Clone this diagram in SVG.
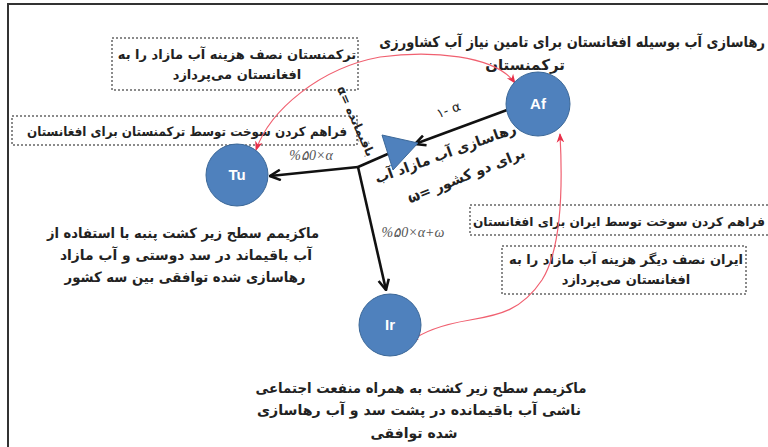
<svg xmlns="http://www.w3.org/2000/svg" width="768" height="447" viewBox="0 0 768 447">
<defs>
<marker id="ab" viewBox="0 0 10 10" refX="9" refY="5" markerWidth="5" markerHeight="5" orient="auto-start-reverse" markerUnits="strokeWidth">
<path d="M1,1 L9,5 L1,9" fill="none" stroke="#111" stroke-width="2"/>
</marker>
<marker id="ar" viewBox="0 0 10 10" refX="9" refY="5" markerWidth="8" markerHeight="8" orient="auto-start-reverse" markerUnits="strokeWidth">
<path d="M0,1 L10,5 L0,9 L3,5 Z" fill="#e8304a"/>
</marker>
<style>
.fa{font-family:"DejaVu Sans","Noto Sans",sans-serif;font-weight:bold;fill:#222;direction:rtl;text-anchor:middle}
.box{fill:none;stroke:#666;stroke-width:1.5;stroke-dasharray:2,2}
.node{fill:#4F81BD;stroke:#3C6898;stroke-width:1}
.nl{font-family:"Liberation Sans",Arial,sans-serif;font-weight:bold;font-size:15px;fill:#fff;text-anchor:middle}
.blk{stroke:#111;stroke-width:2.6;fill:none}
.red{stroke:#f06070;stroke-width:1.2;fill:none}
.math{font-family:"Liberation Serif","Times New Roman",serif;font-style:italic;font-size:14px;fill:#555;direction:ltr;text-anchor:middle}
</style>
</defs>
<rect x="0" y="0" width="768" height="447" fill="#fff"/>
<path d="M8,447 L8,4 L768,4" fill="none" stroke="#333" stroke-width="2"/>

<g id="title">
<text class="fa" style="text-anchor:start;font-size:13px" transform="translate(765,47) scale(1,1.15)">رهاسازی آب بوسیله افغانستان برای تامین نیاز آب کشاورزی</text>
<text class="fa" style="font-size:15px" x="525" y="70">ترکمنستان</text>
</g>

<g id="box-tu-cost">
<rect class="box" x="112" y="38" width="246" height="52"/>
<text class="fa" style="font-size:13px" x="237" y="59">ترکمنستان نصف هزینه آب مازاد را به</text>
<text class="fa" style="font-size:13px" x="237" y="79">افغانستان می‌پردازد</text>
</g>
<g id="box-tu-fuel">
<rect class="box" x="12" y="116" width="345" height="29"/>
<text class="fa" style="font-size:13px" x="187" y="136" textLength="320" lengthAdjust="spacingAndGlyphs">فراهم کردن سوخت  توسط ترکمنستان برای افغانستان</text>
</g>
<g id="box-ir-fuel">
<rect class="box" x="470" y="205" width="310" height="30"/>
<text class="fa" style="font-size:12.2px;text-anchor:start" x="765" y="226">فراهم کردن سوخت  توسط ایران برای افغانستان</text>
</g>
<g id="box-ir-cost">
<rect class="box" x="502" y="246" width="244" height="48"/>
<text class="fa" style="font-size:13px" x="626" y="264">ایران  نصف دیگر هزینه آب مازاد را به</text>
<text class="fa" style="font-size:13px" x="626" y="284">افغانستان می‌پردازد</text>
</g>

<g id="connectors">
<path class="red" d="M515,83 C495,55 430,50 380,57 C320,68 270,110 256,150" marker-start="url(#ar)" marker-end="url(#ar)"/>
<path class="red" d="M560,134 C563,190 561,250 542,280 C522,310 500,315 470,320 C440,325 422,332 410,342" marker-start="url(#ar)" marker-end="url(#ar)"/>
<line class="blk" x1="507" y1="110" x2="415" y2="144" marker-end="url(#ab)"/>
<path class="blk" d="M390,153 L358,167"/>
<line class="blk" x1="358" y1="167" x2="270" y2="176" marker-end="url(#ab)"/>
<line class="blk" x1="358" y1="167" x2="386" y2="290" marker-end="url(#ab)"/>
<text class="fa" style="font-size:13px;direction:ltr;font-weight:normal" transform="translate(450,114) rotate(-20)">١- α</text>
<text class="math" x="311" y="160">%۵0×α</text>
<text class="math" x="413" y="237">%۵0×α+ω</text>
<text class="fa" style="font-size:12px" transform="translate(352,123) rotate(66)">باقیمانده =α</text>
<text class="fa" style="font-size:14px" transform="translate(447,158) rotate(-20)">رهاسازی آب مازاد آب</text>
<text class="fa" style="font-size:14px" transform="translate(468,180) rotate(-22)">برای دو کشور =ω</text>
</g>

<g id="dam">
<polygon points="382,135 418,143 393,170" fill="#4F81BD" stroke="#3C6898" stroke-width="1"/>
</g>

<g id="node-af">
<circle class="node" cx="538" cy="104" r="32"/>
<text class="nl" x="538" y="109">Af</text>
</g>
<g id="node-tu">
<circle class="node" cx="237" cy="175" r="31"/>
<text class="nl" x="237" y="180">Tu</text>
</g>
<g id="node-ir">
<circle class="node" cx="390" cy="325" r="31"/>
<text class="nl" x="390" y="330">Ir</text>
</g>

<g id="text-tu">
<text class="fa" style="font-size:14px" x="183" y="238" textLength="272" lengthAdjust="spacingAndGlyphs">ماکزیمم سطح زیر کشت پنبه با استفاده از</text>
<text class="fa" style="font-size:14px" x="186" y="260" textLength="252" lengthAdjust="spacingAndGlyphs">آب باقیماند در سد دوستی و آب مازاد</text>
<text class="fa" style="font-size:14px" x="185" y="282" textLength="241" lengthAdjust="spacingAndGlyphs">رهاسازی شده توافقی بین سه کشور</text>
</g>
<g id="text-ir">
<text class="fa" style="font-size:14px" x="421" y="393" textLength="331" lengthAdjust="spacingAndGlyphs">ماکزیمم سطح زیر کشت به همراه منفعت اجتماعی</text>
<text class="fa" style="font-size:14px" x="419" y="415" textLength="324" lengthAdjust="spacingAndGlyphs">ناشی آب باقیمانده در پشت سد و آب رهاسازی</text>
<text class="fa" style="font-size:14px" x="414" y="438">شده توافقی</text>
</g>
</svg>
